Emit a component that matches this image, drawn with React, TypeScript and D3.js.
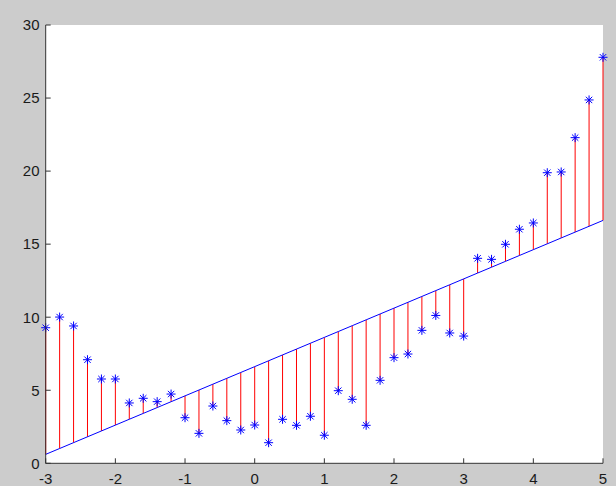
import React, { useEffect, useRef } from "react";
import * as d3 from "d3";

// Sample positions and observed values
const xs: number[] = [
  -3, -2.8, -2.6, -2.4, -2.2, -2, -1.8, -1.6, -1.4, -1.2,
  -1, -0.8, -0.6, -0.4, -0.2, 0, 0.2, 0.4, 0.6, 0.8,
  1, 1.2, 1.4, 1.6, 1.8, 2, 2.2, 2.4, 2.6, 2.8,
  3, 3.2, 3.4, 3.6, 3.8, 4, 4.2, 4.4, 4.6, 4.8, 5,
];
const ys: number[] = [
  9.28, 10.01, 9.4, 7.09, 5.77, 5.77, 4.13, 4.45, 4.22, 4.74,
  3.12, 2.05, 3.92, 2.92, 2.28, 2.62, 1.41, 3.01, 2.6, 3.22,
  1.92, 4.97, 4.38, 2.6, 5.68, 7.23, 7.48, 9.1, 10.12, 8.92,
  8.71, 14.03, 13.96, 14.99, 16.02, 16.45, 19.89, 19.94, 22.29, 24.87, 27.79,
];
const xTicks: number[] = [-3, -2, -1, 0, 1, 2, 3, 4, 5];
const yTicks: number[] = [0, 5, 10, 15, 20, 25, 30];

const W = 616;
const H = 486;

export default function App() {
  const ref = useRef<SVGSVGElement | null>(null);

  useEffect(() => {
    document.body.style.margin = "0";
    const svg = d3.select(ref.current);
    svg.selectAll("*").remove();

    const x = d3.scaleLinear().domain([-3, 5]).range([45.7, 603]);
    const y = d3.scaleLinear().domain([0, 30]).range([463.3, 25]);

    // least-squares straight-line fit
    const mx = d3.mean(xs) as number;
    const my = d3.mean(ys) as number;
    let sxy = 0;
    let sxx = 0;
    xs.forEach((v, i) => {
      sxy += (v - mx) * (ys[i] - my);
      sxx += (v - mx) * (v - mx);
    });
    const slope = sxy / sxx;
    const icpt = my - slope * mx;
    const fit = (v: number) => icpt + slope * v;

    svg.append("rect").attr("width", W).attr("height", H).attr("fill", "#cccccc");
    svg
      .append("rect")
      .attr("x", x(-3))
      .attr("y", y(30))
      .attr("width", x(5) - x(-3))
      .attr("height", y(0) - y(30))
      .attr("fill", "#ffffff");

    // residual stems
    svg
      .append("g")
      .selectAll("line")
      .data(xs)
      .join("line")
      .attr("x1", (d) => x(d))
      .attr("x2", (d) => x(d))
      .attr("y1", (d) => y(fit(d)))
      .attr("y2", (d, i) => y(ys[i]))
      .attr("stroke", "#ff0000")
      .attr("stroke-width", 1);

    // fitted line
    const line = d3
      .line<number>()
      .x((d) => x(d))
      .y((d) => y(fit(d)));
    svg
      .append("path")
      .datum(xs)
      .attr("d", line)
      .attr("fill", "none")
      .attr("stroke", "#0000ff")
      .attr("stroke-width", 1);

    // asterisk markers
    const r = 4.5;
    const k = r * Math.SQRT1_2;
    const star = `M${-r},0L${r},0M0,${-r}L0,${r}M${-k},${-k}L${k},${k}M${-k},${k}L${k},${-k}`;
    svg
      .append("g")
      .selectAll("path")
      .data(xs)
      .join("path")
      .attr("transform", (d, i) => `translate(${x(d)},${y(ys[i])})`)
      .attr("d", star)
      .attr("fill", "none")
      .attr("stroke", "#0000ff")
      .attr("stroke-width", 1);

    // axes
    const axisColor = "#333333";
    const font = "'Liberation Sans', Arial, Helvetica, sans-serif";
    svg
      .append("line")
      .attr("x1", x(-3))
      .attr("x2", x(-3))
      .attr("y1", y(0))
      .attr("y2", y(30))
      .attr("stroke", axisColor);
    svg
      .append("line")
      .attr("x1", x(-3))
      .attr("x2", x(5))
      .attr("y1", y(0))
      .attr("y2", y(0))
      .attr("stroke", axisColor);

    const xg = svg.append("g");
    xTicks.forEach((t) => {
      xg.append("line")
        .attr("x1", x(t))
        .attr("x2", x(t))
        .attr("y1", y(0))
        .attr("y2", y(0) - 5)
        .attr("stroke", axisColor);
      xg.append("text")
        .attr("x", x(t))
        .attr("y", 483.5)
        .attr("text-anchor", "middle")
        .attr("font-family", font)
        .attr("font-size", 15)
        .attr("fill", "#1a1a1a")
        .text(String(t));
    });

    const yg = svg.append("g");
    yTicks.forEach((t) => {
      yg.append("line")
        .attr("x1", x(-3))
        .attr("x2", x(-3) + 5)
        .attr("y1", y(t))
        .attr("y2", y(t))
        .attr("stroke", axisColor);
      yg.append("text")
        .attr("x", 39.5)
        .attr("y", y(t) + 5.3)
        .attr("text-anchor", "end")
        .attr("font-family", font)
        .attr("font-size", 15)
        .attr("fill", "#1a1a1a")
        .text(String(t));
    });
  }, []);

  return (
    <svg
      ref={ref}
      width={W}
      height={H}
      style={{ display: "block", position: "fixed", left: 0, top: 0 }}
    />
  );
}
